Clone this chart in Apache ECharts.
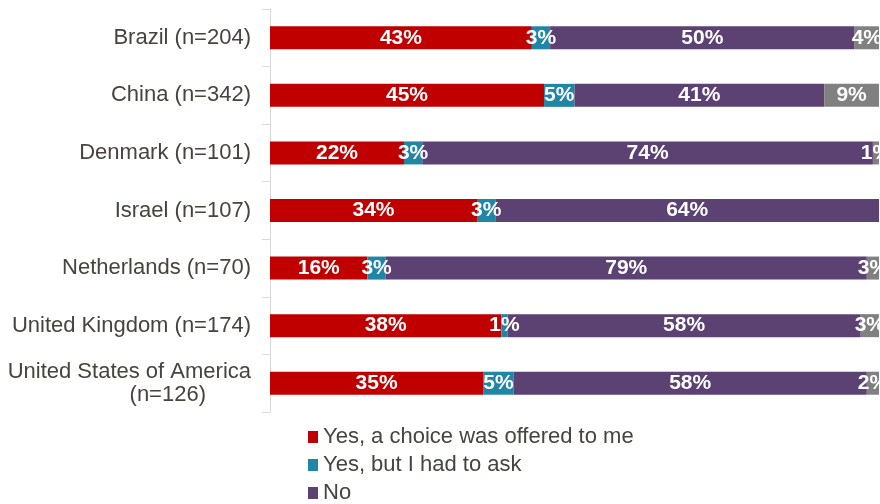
<!DOCTYPE html>
<html>
<head>
<meta charset="utf-8">
<script src="https://cdn.jsdelivr.net/npm/echarts@6/dist/echarts.min.js"></script>
<style>
  html, body { margin: 0; padding: 0; background: #ffffff; }
  #chart { width: 880px; height: 504px; }
</style>
</head>
<body>
<div id="chart"></div>
<script>
// Countries (top to bottom) with sample sizes
const countries = [
  'Brazil (n=204)',
  'China (n=342)',
  'Denmark (n=101)',
  'Israel (n=107)',
  'Netherlands (n=70)',
  'United Kingdom (n=174)',
  'United States of America\n(n=126)'
];

// Share of respondents per answer, in percent
const offeredChoice = [43, 45, 22, 34, 16, 38, 35];
const hadToAsk      = [3, 5, 3, 3, 3, 1, 5];
const noChoice      = [50, 41, 74, 64, 79, 58, 58];
const otherAnswer   = [4, 9, 1, 0, 3, 3, 2];

const seriesNames = ['Yes, a choice was offered to me', 'Yes, but I had to ask', 'No', 'Other'];
const seriesColors = ['#C00000', '#2185A6', '#5C4173', '#808080'];
const seriesValues = [offeredChoice, hadToAsk, noChoice, otherAnswer];

const textColor = '#47433e';
const fontFamily = 'Liberation Sans, Arial, sans-serif';

const chart = echarts.init(document.getElementById('chart'), null, { renderer: 'canvas' });

const series = seriesValues.map((vals, i) => ({
  name: seriesNames[i],
  type: 'bar',
  stack: 'total',
  barWidth: 23,
  data: vals,
  itemStyle: { color: seriesColors[i] },
  label: {
    show: true,
    position: 'inside',
    color: '#ffffff',
    fontFamily: fontFamily,
    fontWeight: 'bold',
    fontSize: 21,
    formatter: p => (p.value > 0 ? p.value + '%' : '')
  },
  emphasis: { disabled: true }
}));

chart.setOption({
  animation: false,
  backgroundColor: '#ffffff',
  grid: { left: 270, right: 1, top: 9, bottom: 92, containLabel: false },
  xAxis: {
    type: 'value',
    min: 0,
    max: 100,
    show: false
  },
  yAxis: {
    type: 'category',
    inverse: true,
    data: countries,
    axisLine: { show: true, lineStyle: { color: '#d9d9d9', width: 1 } },
    axisTick: { show: true, length: 8, lineStyle: { color: '#d9d9d9' } },
    axisLabel: {
      margin: 19,
      color: textColor,
      fontFamily: fontFamily,
      fontSize: 22,
      lineHeight: 23,
      formatter: v => {
        const parts = v.split('\n');
        if (parts.length === 1) return '{a|' + v + '}';
        return '{a|' + parts[0] + '}\n{b|' + parts[1] + '}';
      },
      rich: {
        a: { fontSize: 22, lineHeight: 23, color: textColor, fontFamily: fontFamily },
        b: { fontSize: 22, lineHeight: 23, color: textColor, fontFamily: fontFamily, padding: [0, 45, 0, 0] }
      }
    },
    splitLine: { show: false }
  },
  legend: {
    orient: 'vertical',
    left: 308,
    top: 426,
    height: 78,
    padding: 0,
    itemWidth: 10,
    itemHeight: 12,
    itemGap: 6,
    icon: 'rect',
    data: seriesNames.slice(0, 3),
    textStyle: {
      color: textColor,
      fontFamily: fontFamily,
      fontSize: 22,
      lineHeight: 22
    }
  },
  series: series
});
</script>
</body>
</html>
